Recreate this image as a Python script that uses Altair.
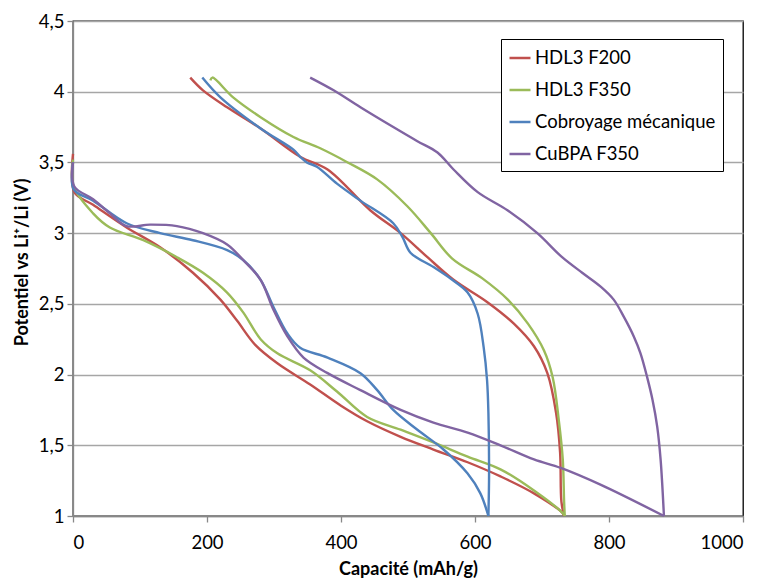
import altair as alt
import pandas as pd

# ---- data ----
series_names = ["HDL3 F200", "HDL3 F350", "Cobroyage mécanique", "CuBPA F350"]
colors = ["#C0504D", "#9BBB59", "#4F81BD", "#8064A2"]

# HDL3 F200
red_dis_x = [0, 2, 30, 80, 130, 179, 220, 245, 272, 305, 354, 400, 439, 489, 538, 589, 638, 688, 731, 733]
red_dis_y = [3.56, 3.29, 3.20, 3.04, 2.90, 2.72, 2.53, 2.38, 2.21, 2.08, 1.93, 1.78, 1.67, 1.56, 1.47, 1.38, 1.28, 1.16, 1.02, 1.00]
red_ch_x = [733, 729, 727, 721, 708, 688, 658, 619, 568, 529, 489, 444, 380, 339, 280, 230, 194, 175]
red_ch_y = [1.00, 1.10, 1.45, 1.73, 2.01, 2.20, 2.36, 2.51, 2.67, 2.83, 3.00, 3.16, 3.45, 3.54, 3.74, 3.89, 4.01, 4.10]

# HDL3 F350
grn_dis_x = [0, 1, 30, 55, 105, 155, 194, 230, 254, 280, 305, 354, 394, 439, 489, 538, 589, 638, 688, 731, 734]
grn_dis_y = [3.52, 3.33, 3.14, 3.04, 2.95, 2.83, 2.72, 2.58, 2.44, 2.25, 2.15, 2.03, 1.88, 1.70, 1.61, 1.52, 1.42, 1.33, 1.18, 1.02, 1.00]
grn_ch_x = [734, 733, 731, 725, 716, 703, 679, 649, 611, 566, 534, 499, 454, 410, 369, 329, 280, 239, 208, 205]
grn_ch_y = [1.00, 1.10, 1.40, 1.68, 1.98, 2.17, 2.36, 2.53, 2.68, 2.82, 3.00, 3.19, 3.38, 3.50, 3.60, 3.68, 3.82, 3.96, 4.10, 4.08]

# Cobroyage mécanique
blu_dis_x = [0, 1, 30, 80, 130, 179, 230, 254, 280, 299, 320, 339, 380, 429, 454, 478, 514, 553, 589, 608, 620]
blu_dis_y = [3.50, 3.31, 3.23, 3.07, 3.00, 2.95, 2.88, 2.81, 2.67, 2.48, 2.29, 2.19, 2.12, 2.01, 1.89, 1.75, 1.61, 1.47, 1.30, 1.16, 1.00]
blu_ch_x = [620, 621, 620, 618, 613, 604, 589, 566, 538, 504, 492, 478, 429, 394, 364, 349, 339, 329, 280, 220, 193]
blu_ch_y = [1.00, 1.30, 1.73, 1.96, 2.19, 2.43, 2.58, 2.67, 2.76, 2.86, 2.97, 3.07, 3.23, 3.35, 3.47, 3.50, 3.54, 3.59, 3.74, 3.96, 4.10]

# CuBPA F350
pur_dis_x = [0, 2, 30, 55, 80, 115, 155, 194, 230, 254, 280, 299, 320, 344, 380, 429, 489, 538, 589, 638, 688, 728, 788, 882]
pur_dis_y = [3.50, 3.33, 3.24, 3.14, 3.05, 3.06, 3.05, 3.00, 2.92, 2.81, 2.67, 2.46, 2.27, 2.12, 2.01, 1.89, 1.75, 1.66, 1.59, 1.50, 1.40, 1.34, 1.22, 1.00]
pur_ch_x = [882, 877, 872, 865, 857, 847, 837, 822, 807, 788, 760, 730, 693, 649, 604, 568, 544, 514, 478, 429, 389, 354]
pur_ch_y = [1.00, 1.40, 1.63, 1.82, 1.98, 2.15, 2.27, 2.41, 2.53, 2.62, 2.72, 2.83, 3.00, 3.16, 3.29, 3.45, 3.57, 3.65, 3.75, 3.89, 4.01, 4.10]

curves = [
    (series_names[0], red_dis_x, red_dis_y, red_ch_x, red_ch_y),
    (series_names[1], grn_dis_x, grn_dis_y, grn_ch_x, grn_ch_y),
    (series_names[2], blu_dis_x, blu_dis_y, blu_ch_x, blu_ch_y),
    (series_names[3], pur_dis_x, pur_dis_y, pur_ch_x, pur_ch_y),
]

rows = []
for name, dx, dy, cx, cy in curves:
    for i, (x, y) in enumerate(zip(dx, dy)):
        rows.append({"serie": name, "seg": name + " d", "ord": i, "cap": x, "pot": y})
    for i, (x, y) in enumerate(zip(cx, cy)):
        rows.append({"serie": name, "seg": name + " c", "ord": i, "cap": x, "pot": y})
df = pd.DataFrame(rows)

FONT = "Lato"
label_expr = "replace(format(datum.value, '.1~f'), '.', ',')"

chart = (
    alt.Chart(df)
    .mark_line(interpolate="catmull-rom", strokeWidth=2.4)
    .encode(
        x=alt.X(
            "cap:Q",
            scale=alt.Scale(domain=[0, 1000], nice=False),
            axis=alt.Axis(
                title="Capacité (mAh/g)",
                values=[0, 200, 400, 600, 800, 1000],
                format="d",
                grid=False,
                tickSize=6,
                labelPadding=11,
                titleBaseline="alphabetic",
                titleY=58,
            ),
        ),
        y=alt.Y(
            "pot:Q",
            scale=alt.Scale(domain=[1, 4.5], nice=False, zero=False),
            axis=alt.Axis(
                title="Potentiel vs Li⁺/Li (V)",
                values=[1, 1.5, 2, 2.5, 3, 3.5, 4, 4.5],
                labelExpr=label_expr,
                tickSize=6,
                labelPadding=3,
                titleBaseline="alphabetic",
                titleX=-46,
                titleY=241,
                titleAngle=-90,
            ),
        ),
        color=alt.Color(
            "serie:N",
            scale=alt.Scale(domain=series_names, range=colors),
            legend=alt.Legend(
                title=None,
                orient="none",
                legendX=428,
                legendY=18,
                symbolType="stroke",
                symbolSize=441,
                symbolStrokeWidth=2.5,
                labelFontSize=18.5,
                labelFont=FONT,
                labelColor="#000000",
                labelOffset=3,
                rowPadding=10,
                padding=7,
                strokeColor="#000000",
                fillColor="#FFFFFF",
                labelLimit=300,
            ),
        ),
        detail="seg:N",
        order="ord:Q",
    )
    .properties(
        width=670,
        height=495,
        autosize=alt.AutoSizeParams(type="none"),
        padding={"left": 65, "top": 13, "right": 15, "bottom": 62},
    )
    .configure_view(stroke="#000000", strokeWidth=1.3)
    .configure_axis(
        labelFont=FONT,
        labelFontSize=18.5,
        labelColor="#000000",
        titleFont=FONT,
        titleFontSize=18,
        titleFontWeight="bold",
        titleColor="#000000",
        domainColor="#888888",
        domainWidth=1.3,
        tickColor="#888888",
        tickWidth=1.3,
        gridColor="#A6A6A6",
        gridWidth=1.3,
    )
)

chart.save("out.html", embed_options={"renderer": "svg", "actions": False})
